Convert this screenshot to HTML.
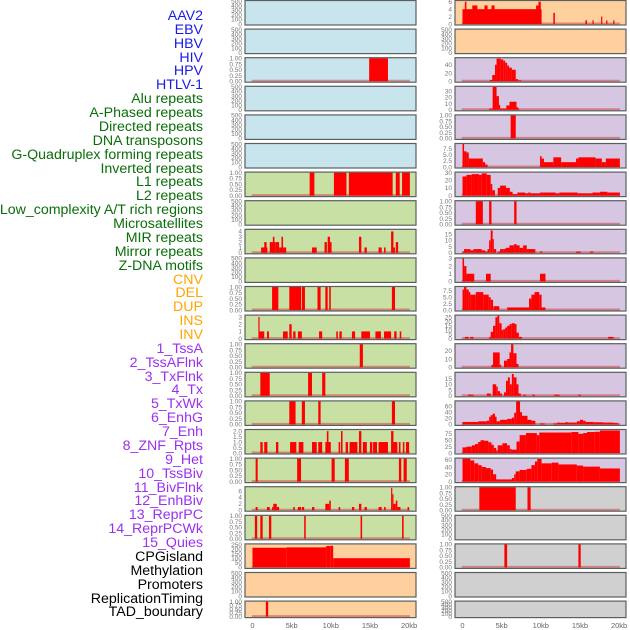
<!DOCTYPE html>
<html><head><meta charset="utf-8">
<style>
html,body{margin:0;padding:0;background:#fff;}
#wrap{position:relative;width:630px;height:630px;overflow:hidden;}
.lab{position:absolute;right:427px;font:14.2px "Liberation Sans",sans-serif;white-space:nowrap;line-height:14px;}
</style></head>
<body>
<div id="wrap">
<div id="labels"></div>
<svg id="svg" width="630" height="630" xmlns="http://www.w3.org/2000/svg" style="position:absolute;left:0;top:0"></svg>
</div>
<script>
const trackNames = ["AAV2","EBV","HBV","HIV","HPV","HTLV-1","Alu repeats","A-Phased repeats","Directed repeats","DNA transposons","G-Quadruplex forming repeats","Inverted repeats","L1 repeats","L2 repeats","Low_complexity A/T rich regions","Microsatellites","MIR repeats","Mirror repeats","Z-DNA motifs","CNV","DEL","DUP","INS","INV","1_TssA","2_TssAFlnk","3_TxFlnk","4_Tx","5_TxWk","6_EnhG","7_Enh","8_ZNF_Rpts","9_Het","10_TssBiv","11_BivFlnk","12_EnhBiv","13_ReprPC","14_ReprPCWk","15_Quies","CPGisland","Methylation","Promoters","ReplicationTiming","TAD_boundary"];
const labelColors = ["#1a1aee","#1a1aee","#1a1aee","#1a1aee","#1a1aee","#1a1aee","#0a6e0a","#0a6e0a","#0a6e0a","#0a6e0a","#0a6e0a","#0a6e0a","#0a6e0a","#0a6e0a","#0a6e0a","#0a6e0a","#0a6e0a","#0a6e0a","#0a6e0a","#ffa500","#ffa500","#ffa500","#ffa500","#ffa500","#9b30ee","#9b30ee","#9b30ee","#9b30ee","#9b30ee","#9b30ee","#9b30ee","#9b30ee","#9b30ee","#9b30ee","#9b30ee","#9b30ee","#9b30ee","#9b30ee","#9b30ee","#000","#000","#000","#000","#000"];

const xTicks = [0,5,10,15,20];
const xTickLabels = ["0","5kb","10kb","15kb","20kb"];

const T500=[0,100,200,300,400,500], T1=[0,0.25,0.5,0.75,1];
const T1L=["0.00","0.25","0.50","0.75","1.00"];
const leftBg = ["#c8e4ec","#c8e4ec","#c8e4ec","#c8e4ec","#c8e4ec","#c8e4ec","#c8e0a4","#c8e0a4","#c8e0a4","#c8e0a4","#c8e0a4","#c8e0a4","#c8e0a4","#c8e0a4","#c8e0a4","#c8e0a4","#c8e0a4","#c8e0a4","#c8e0a4","#fdd09d","#fdd09d","#fdd09d"];
const rightBg = ["#fdd09d","#fdd09d","#d6c6e2","#d6c6e2","#d6c6e2","#d6c6e2","#d6c6e2","#d6c6e2","#d6c6e2","#d6c6e2","#d6c6e2","#d6c6e2","#d6c6e2","#d6c6e2","#d6c6e2","#d6c6e2","#d6c6e2","#d0d0d0","#d0d0d0","#d0d0d0","#d0d0d0","#d0d0d0"];

const leftMax = [500,500,1,500,500,500,1,500,4.3,500,1,3.2,1,1,1,2.1,1,7.2,1,255,500,1];
const leftTicks = [T500,T500,T1,T500,T500,T500,T1,T500,[0,1,2,3,4],T500,T1,[0,1,2,3],T1,T1,T1,[0,0.5,1,1.5,2],T1,[0,2,4,6],T1,[0,50,100,150,200,250],T500,T1];
const leftTickLabels = [null,null,T1L,null,null,null,T1L,null,null,null,T1L,null,T1L,T1L,T1L,["0.0","0.5","1.0","1.5","2.0"],T1L,null,T1L,null,null,T1L];
const leftBars = [
 [],[],
 [[14.9,17.3,1]],
 [],[],[],
 [[7.3,7.9,1],[10.4,12.0,1],[12.3,17.9,1],[18.3,18.8,1],[19.1,20.1,1]],
 [],
 [[1.1,1.9,1],[1.5,1.8,2],[2.2,2.9,2],[2.6,2.8,3],[2.9,3.4,2],[3.4,3.7,1],[3.7,3.9,3],[3.9,4.3,1],[7.6,8.2,1],[9.2,9.5,2],[9.6,9.9,3],[9.9,10.1,2],[13.6,13.9,3],[14.3,14.6,1],[16.1,16.5,1],[16.8,17.0,1],[17.7,18.0,4],[18.0,18.2,1],[18.3,18.6,2]],
 [],
 [[2.5,3.3,1],[4.7,6.2,1],[6.3,6.7,1],[8.3,8.7,1],[9.3,9.6,1],[9.8,10.0,1],[17.8,18.2,1]],
 [[0.75,0.9,3],[0.9,1.5,1],[1.85,2.1,1],[3.9,4.5,1],[4.7,5.0,2],[5.2,5.5,1],[5.8,6.3,1],[8.5,8.9,1],[10.7,10.9,1],[11.1,11.4,1],[12.7,13.1,1],[13.9,15.0,1],[15.7,16.4,1],[16.8,17.7,1],[18.1,18.4,1],[18.8,19.0,1]],
 [[13.7,14.1,1]],
 [[1.0,2.2,1],[7.1,7.6,1],[8.9,9.3,1]],
 [[4.7,5.5,1],[6.3,6.7,1],[8.4,8.7,1],[17.8,18.2,1]],
 [[1.0,1.3,1],[1.5,1.9,1],[3.0,3.3,1],[4.8,5.6,1],[5.9,6.5,1],[7.6,8.2,1],[8.4,8.9,1],[9.3,10.0,1],[9.5,9.7,2],[11.0,11.2,1],[11.3,11.5,2],[11.9,12.2,1],[12.4,13.4,1],[13.6,13.9,2],[14.1,14.6,1],[15.0,15.3,1],[15.4,15.9,1],[16.1,17.3,1],[17.7,18.0,2],[18.0,18.5,1],[18.7,18.9,1],[19.2,19.4,1],[19.6,20.0,1]],
 [[0.4,0.66,1],[5.7,6.2,1],[10.1,10.5,1],[11.8,12.3,1],[18.7,19.0,1],[19.3,19.7,1]],
 [[0.4,0.66,1],[1.85,2.2,1],[2.5,2.65,1],[2.65,3.1,2],[3.1,3.4,1],[5.2,5.4,1],[5.8,6.2,1],[6.3,6.6,1],[7.6,7.9,1],[9.3,9.8,2],[9.8,10.0,3],[11.0,11.2,1],[12.7,13.0,1],[13.6,13.9,2],[14.3,14.6,1],[16.1,16.5,1],[16.8,17.0,1],[17.7,17.85,7],[17.85,18.0,5],[18.0,18.3,2],[18.3,18.5,3],[18.5,18.9,1],[19.8,20.0,1]],
 [[0.3,0.6,1],[1.0,1.3,1],[2.1,2.4,1],[6.6,6.8,1],[13.8,14.0,1],[19.1,19.3,1]],
 [[0,4.3,218],[4.3,9.4,222],[9.4,10.0,238],[10.0,10.3,240],[10.3,20.1,102]],
 [],
 [[1.7,2.0,1]]
];

const rightMax = [6.2,500,56,37,1,9.5,30,1,18.5,3,9,27,28,20,75,90,63,1,500,1,500,500];
const rightTicks = [[0,2,4,6],T500,[0,20,40],[0,10,20,30],T1,[0,2.5,5,7.5],[0,10,20,30],T1,[0,5,10,15],[0,1,2,3],[0,2.5,5,7.5],[0,5,10,15,20,25],[0,10,20],[0,5,10,15],[0,20,40,60],[0,25,50,75],[0,20,40,60],T1,T500,T1,T500,T500];
const rightTickLabels = [null,null,null,null,T1L,["0.0","2.5","5.0","7.5"],null,T1L,null,null,["0.0","2.5","5.0","7.5"],null,null,null,null,null,null,T1L,null,T1L,null,null];
const rightBars = [
 [[0,10.1,4],[0.3,0.5,6],[1.25,1.9,5],[2.8,3.2,5],[3.7,4.1,5],[9.4,9.7,5],[9.7,10.0,6],[11.6,11.8,3],[15.7,15.9,1],[16.6,16.7,1],[17.7,17.85,2],[18.35,18.5,1],[19.25,19.4,1]],
 [],
 [[3.5,3.8,3],[3.8,4.15,15],[4.15,4.35,40],[4.35,4.9,55],[4.9,5.2,53],[5.2,5.45,50],[5.45,5.7,45],[5.7,5.95,38],[5.95,6.3,33],[6.3,6.8,28],[6.8,7.1,5],[7.1,7.5,2]],
 [[3.4,3.85,2],[3.85,4.35,37],[4.35,4.65,22],[4.65,4.8,8],[4.8,5.1,2],[5.1,5.6,2],[5.6,6.0,7],[6.0,6.9,13],[6.9,7.1,4],[7.1,7.25,2]],
 [[6.15,6.8,1]],
 [[0,0.2,9.5],[0.2,0.5,6.5],[0.5,0.8,6],[0.8,2.6,3.5],[2.6,2.9,2],[2.9,3.2,1],[9.9,10.1,4.5],[10.1,10.4,3.5],[10.4,11.6,2],[11.6,12.6,4],[12.6,14.5,2],[14.5,14.8,3.5],[14.8,17.0,4],[17.0,17.8,3.5],[17.8,18.3,2],[18.3,20.1,3.5]],
 [[0,0.5,25],[0.5,1.2,27],[1.2,2.1,28],[2.1,2.45,27],[2.45,3.1,29],[3.1,3.6,27],[3.6,3.8,15],[3.8,4.15,7],[4.5,4.8,10],[4.8,5.55,13],[5.55,6.05,10],[6.05,6.4,5],[6.4,7.0,2],[7.0,8.0,4],[8.0,8.4,3],[8.4,8.7,4],[8.7,9.9,3],[9.9,11.9,4],[11.9,12.35,3],[12.35,14.7,4],[14.7,16.6,3],[16.6,17.55,4],[17.55,18.5,5],[18.5,20.1,4]],
 [[1.7,2.6,1],[3.4,3.7,1],[6.6,6.9,1]],
 [[0,0.2,1],[0.2,0.6,3],[0.6,1.0,3],[1.0,1.4,2],[1.4,1.7,3],[1.7,2.45,3],[2.45,2.9,2],[2.9,3.2,1],[3.2,3.4,3],[3.4,3.6,10],[3.6,3.85,18],[3.85,4.0,11],[4.0,4.3,3],[4.5,4.8,1],[4.8,5.2,3],[5.2,5.5,3],[5.5,6.0,4],[6.0,6.6,6],[6.6,6.9,7],[6.9,7.3,6],[7.3,7.75,4],[7.75,8.2,6],[8.2,9.3,3],[9.9,10.2,1],[14.5,15.1,1],[16.3,16.7,1]],
 [[0,0.2,3],[0.2,0.5,2],[0.5,1.5,1],[3.0,3.6,1],[9.9,10.6,1]],
 [[0,0.2,8],[0.2,0.5,9],[0.5,0.8,8],[0.8,1.0,7],[1.0,1.7,6],[1.7,2.65,7],[2.65,3.35,6],[3.35,3.6,5],[3.6,3.9,4],[3.95,4.7,1.5],[5.7,8.5,1],[8.5,8.8,4.5],[8.8,9.2,6],[9.2,9.8,7],[9.8,10.1,6],[10.1,10.6,1]],
 [[0.3,0.8,2],[1.0,1.4,2],[3.4,3.6,2],[3.6,3.9,8],[3.9,4.2,15],[4.2,4.45,25],[4.45,4.7,27],[4.7,5.0,18],[5.0,5.2,10],[5.2,5.45,11],[5.45,5.7,13],[5.7,6.0,15],[6.0,6.3,17],[6.3,6.7,18],[6.7,6.9,17],[6.9,7.2,7],[7.2,7.6,2],[18.6,19.3,2]],
 [[3.7,3.9,3],[3.9,4.75,18],[4.75,4.95,3],[5.3,5.7,8],[5.7,6.0,10],[6.0,6.2,18],[6.2,6.5,28],[6.5,6.9,17],[6.9,7.15,4]],
 [[0.7,1.4,1],[3.1,3.6,2],[3.85,4.3,10],[4.3,4.5,8],[4.5,4.8,4],[4.8,5.05,2],[5.3,5.55,3],[5.55,5.8,13],[5.8,6.05,16],[6.05,6.3,10],[6.3,6.55,19],[6.55,6.9,16],[6.9,7.15,10],[7.15,7.45,2],[7.75,8.1,1],[8.9,9.25,1],[11.7,12.4,1],[14.8,15.1,1]],
 [[0,2.0,8],[2.0,3.1,10],[3.1,3.4,12],[3.4,3.6,25],[3.6,3.85,30],[3.85,4.15,35],[4.15,4.35,25],[4.35,4.8,10],[4.8,5.7,15],[5.7,6.3,18],[6.3,6.6,22],[6.6,6.85,38],[6.85,7.35,75],[7.35,7.6,40],[7.6,8.3,28],[8.3,8.8,15],[8.8,9.3,12],[9.9,10.5,3],[11.6,12.1,3],[12.1,12.45,6],[12.45,13.1,5],[13.1,13.5,7],[13.5,14.6,6],[14.6,15.0,10],[15.0,15.4,15],[15.4,15.7,12],[15.7,16.7,8],[16.7,18.0,7],[18.0,19.25,6],[19.25,19.8,5],[19.8,20.0,2]],
 [[0,0.5,22],[0.5,1.2,25],[1.2,1.6,30],[1.6,2.0,35],[2.0,2.3,43],[2.3,2.75,50],[2.75,3.3,48],[3.3,3.7,42],[3.7,4.0,32],[4.0,4.3,20],[4.3,4.5,10],[4.5,5.1,30],[5.1,5.7,38],[5.7,6.05,30],[6.05,6.3,15],[6.3,6.9,13],[6.9,7.3,45],[7.3,8.1,70],[8.1,9.5,78],[9.5,9.8,70],[9.8,13.9,80],[13.9,14.8,82],[14.8,15.4,75],[15.4,15.9,78],[15.9,16.9,82],[16.9,17.55,83],[17.55,20.1,88]],
 [[0,1.0,63],[1.0,1.5,58],[1.5,2.0,50],[2.0,2.45,45],[2.45,3.0,40],[3.0,3.6,37],[3.6,3.9,33],[3.9,4.3,20],[4.3,6.3,6],[6.3,6.6,10],[6.6,6.8,20],[6.8,7.3,28],[7.3,8.2,32],[8.2,8.8,35],[8.8,9.25,45],[9.25,9.55,55],[9.55,10.1,62],[10.1,11.4,50],[11.4,12.25,52],[12.25,14.6,47],[14.6,15.4,44],[15.4,17.55,41],[17.55,20.1,36]],
 [[2.15,6.8,1],[8.3,8.7,1]],
 [],
 [[5.35,5.7,1],[14.8,15.1,1]],
 [],[]
];

// ---- render ----
const NS="http://www.w3.org/2000/svg";
const svg=document.getElementById('svg');
const labDiv=document.getElementById('labels');
trackNames.forEach((n,i)=>{
  const d=document.createElement('div');
  d.className='lab';
  d.style.top=(15+i*13.87-6)+'px';
  d.style.color=labelColors[i];
  d.textContent=n;
  
  
  labDiv.appendChild(d);
});
function el(t,a){const e=document.createElementNS(NS,t);for(const k in a)e.setAttribute(k,a[k]);return e;}
function drawColumn(colX, x0, bg, maxs, ticks, tickLabels, bars, side){
  const kbScale=7.83;
  const xs=kb=>x0+kb*kbScale;
  for(let i=0;i<22;i++){
    const top=i*28.6+0.5, h=(i==21?16.5:24.5);
    const g=el('g',{});
    
    
    svg.appendChild(g);
    g.appendChild(el('rect',{x:colX,y:top,width:171,height:h,fill:bg[i]}));
    const ymax=maxs[i];
    const ys=v=>top+h-1-v/ymax*(h-1.5);
    const b=bars[i];
    if(b.length){
      const base=el('line',{x1:xs(-0.1),x2:xs(20.1),y1:top+h-1.5,y2:top+h-1.5,stroke:'rgba(205,70,70,0.55)','stroke-width':2});
      g.appendChild(base);
    }
    b.forEach(r=>{
      const rc=el('rect',{x:xs(r[0]),y:ys(r[2]),width:Math.max(1.2,(r[1]-r[0])*kbScale),height:top+h-1-ys(r[2]),fill:'#ff0000'});
      
      
      g.appendChild(rc);
    });
    g.appendChild(el('rect',{x:colX,y:top,width:171,height:h,fill:'none',stroke:'#5a6060','stroke-width':1.2}));
    const tk=ticks[i], tl=tickLabels[i];
    tk.forEach((v,j)=>{
      const t=el('text',{x:colX-3,y:ys(v)+2.3,'text-anchor':'end','font-size':6.5,fill:'#777','font-family':'Liberation Sans, sans-serif'});
      t.textContent=tl?tl[j]:String(v);
      
      
      g.appendChild(t);
    });
  }
  xTicks.forEach((v,j)=>{
    const t=el('text',{x:xs(v),y:628,'text-anchor':'middle','font-size':7.5,fill:'#666','font-family':'Liberation Sans, sans-serif'});
    t.textContent=xTickLabels[j];
    
    
    svg.appendChild(t);
  });
}
drawColumn(245,252.5,leftBg,leftMax,leftTicks,leftTickLabels,leftBars,'left');
drawColumn(455,462.5,rightBg,rightMax,rightTicks,rightTickLabels,rightBars,'right');
</script>
</body></html>
